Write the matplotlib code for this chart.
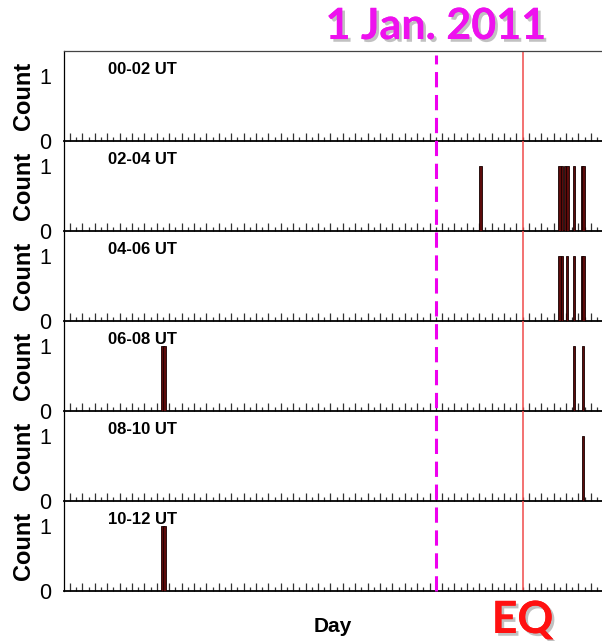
import matplotlib
matplotlib.use('Agg')
import matplotlib.pyplot as plt
from matplotlib.ticker import MultipleLocator
from matplotlib.lines import Line2D
from matplotlib import transforms
import matplotlib.patheffects as pe

# ---- data ----
panel_labels = ["00-02 UT", "02-04 UT", "04-06 UT", "06-08 UT", "08-10 UT", "10-12 UT"]
days_00_02 = []
days_02_04 = [66.2, 78.9, 79.35, 79.85, 80.2, 81.3, 82.55, 82.85]
days_04_06 = [78.9, 79.35, 80.15, 81.3, 82.55, 82.85]
days_06_08 = [14.9, 15.2, 81.3, 82.75]
days_08_10 = [82.75]
days_10_12 = [14.9, 15.2]
panel_days = [days_00_02, days_02_04, days_04_06, days_06_08, days_08_10, days_10_12]
count_value = 1
jan1_day = 59
eq_day = 73
title_text = "1 Jan. 2011"
x_range = (-0.97, 85.8)

W, H = 602, 641
fig = plt.figure(figsize=(W / 100, H / 100), dpi=100)

left = 64 / W
top_px = 51
panel_h = 90
axes = []
for i, (lab, days) in enumerate(zip(panel_labels, panel_days)):
    y0 = 1 - (top_px + (i + 1) * panel_h) / H
    ax = fig.add_axes([left, y0, 1 - left, panel_h / H])
    axes.append(ax)
    ax.bar(days, [count_value] * len(days), width=0.42, color='#5c0a0a',
           edgecolor='#150000', linewidth=0.6, zorder=3)
    ax.axvline(eq_day, color='#f04a4a', linewidth=1.1, zorder=2)
    ax.set_xlim(*x_range)
    ax.set_ylim(0, 90 / 65)
    ax.set_yticks([0, 1])
    ax.set_yticklabels(['0', '1'], fontsize=15.5, family='Liberation Sans')
    ax.tick_params(axis='y', length=0, pad=9)
    ax.xaxis.set_major_locator(MultipleLocator(2))
    ax.xaxis.set_minor_locator(MultipleLocator(1))
    ax.tick_params(axis='x', which='major', direction='in', length=5.5, width=0.9,
                   color='#333333', labelbottom=False)
    ax.tick_params(axis='x', which='minor', direction='in', length=3.2, width=0.9,
                   color='#333333')
    ax.spines['right'].set_visible(False)
    ax.spines['top'].set_visible(i == 0)
    ax.spines['top'].set_linewidth(0.9)
    ax.spines['top'].set_color('#444444')
    ax.spines['bottom'].set_linewidth(1.3)
    ax.spines['left'].set_linewidth(0.9)
    ax.set_ylabel('Count', fontsize=17, fontweight='bold', family='Liberation Sans',
                  labelpad=3)
    ax.text(0.082, 0.80, lab, transform=ax.transAxes, ha='left', va='center',
            fontsize=12, fontweight='bold', family='Liberation Sans')
    ax.patch.set_alpha(0)

# magenta dashed line spanning all panels
blend = transforms.blended_transform_factory(axes[0].transData, fig.transFigure)
y_top = 1 - 55 / H
y_bot = 1 - 591 / H
fig.add_artist(Line2D([jan1_day, jan1_day], [y_bot, y_top], transform=blend,
                      color='#ee00ee', linewidth=2.2, linestyle=(0, (5, 2.5)), zorder=5))

shadow = [pe.withSimplePatchShadow(offset=(2, -2), shadow_rgbFace='#999999', alpha=0.6),
          pe.Normal()]
fig.text(jan1_day, 1 - 26 / H, title_text, transform=blend, ha='center', va='center',
         fontsize=31, fontweight='bold', family='Lato', color='#ee11ee',
         path_effects=shadow)
fig.text(eq_day, 1 - 620 / H, 'EQ', transform=blend, ha='center', va='center',
         fontsize=32, fontweight='bold', family='Lato', color='#ff1111',
         path_effects=shadow)
fig.text(333 / W, 1 - 627 / H, 'Day', ha='center', va='center', fontsize=15,
         fontweight='bold', family='Liberation Sans')

fig.savefig('out.png', dpi=100)
